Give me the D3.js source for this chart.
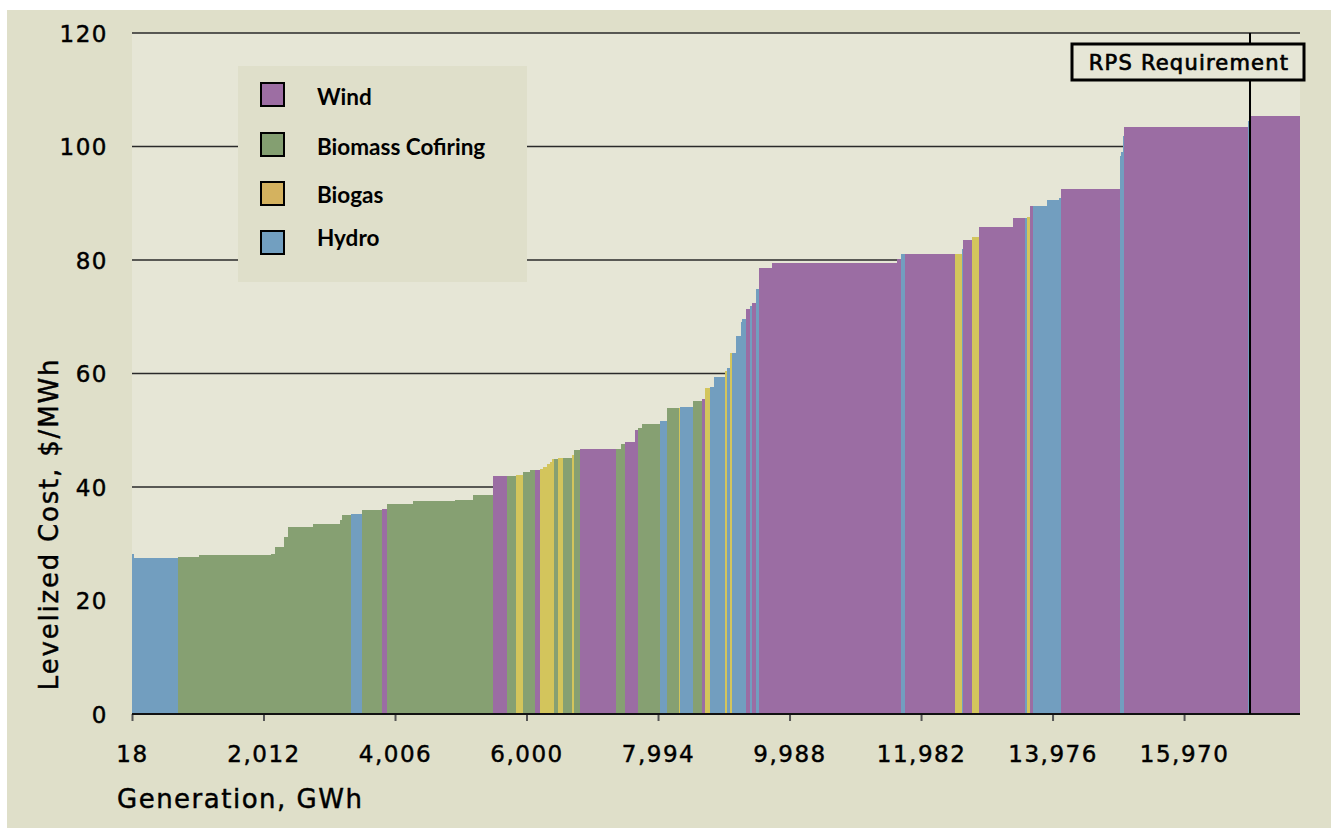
<!DOCTYPE html>
<html>
<head>
<meta charset="utf-8">
<script src="https://cdn.jsdelivr.net/npm/d3@7"></script>
<style>
  html, body { margin: 0; padding: 0; background: #ffffff; }
  svg { display: block; }
</style>
</head>
<body>
<svg id="chart" width="1331" height="828"></svg>
<script>
// ---------------- DATA ----------------
const startGWh = 18;
const endGWh = 17728;
const rpsRequirement = 16970;

const technologies = ["Wind", "Biomass Cofiring", "Biogas", "Hydro"];

// supply-curve blocks in merit order (type, generation width in GWh, levelized cost $/MWh)
const blockTypes = [
  "Hydro","Hydro","Biomass Cofiring","Biomass Cofiring","Biomass Cofiring","Biomass Cofiring","Biomass Cofiring","Biomass Cofiring","Biomass Cofiring","Biomass Cofiring",
  "Biomass Cofiring","Hydro","Biomass Cofiring","Wind","Biomass Cofiring","Biomass Cofiring","Biomass Cofiring","Biomass Cofiring","Wind","Biomass Cofiring",
  "Biogas","Biomass Cofiring","Biomass Cofiring","Wind","Biogas","Biogas","Biogas","Biogas","Biogas","Biomass Cofiring",
  "Biogas","Biomass Cofiring","Biogas","Biomass Cofiring","Wind","Biomass Cofiring","Biomass Cofiring","Wind","Wind","Biomass Cofiring",
  "Biomass Cofiring","Hydro","Biomass Cofiring","Biogas","Hydro","Biomass Cofiring","Wind","Biogas","Hydro","Hydro",
  "Biogas","Hydro","Biogas","Hydro","Hydro","Hydro","Hydro","Wind","Hydro","Wind",
  "Hydro","Wind","Wind","Wind","Hydro","Wind","Biogas","Hydro","Wind","Biogas",
  "Wind","Wind","Hydro","Biogas","Wind","Hydro","Hydro","Hydro","Wind","Hydro",
  "Hydro","Hydro","Wind","Hydro","Wind"
];
const blockWidths = [
  30,667,318,1092,61,136,61,379,409,30,
  136,167,303,76,394,637,273,303,212,136,
  106,106,76,76,45,61,45,30,30,61,
  76,136,30,91,546,76,61,152,45,61,
  273,106,182,15,197,136,45,76,61,167,
  30,45,30,61,76,15,61,61,30,61,
  45,197,1895,61,61,758,106,15,136,106,
  516,182,30,45,45,212,182,30,895,15,
  30,15,1880,15,773
];
const blockCosts = [
  28.2,27.5,27.7,28.0,28.2,29.4,31.2,33.0,33.5,34.2,
  35.1,35.2,35.9,36.1,37.0,37.5,37.7,38.6,41.9,41.9,
  42.1,42.6,43.0,43.0,43.2,43.5,44.1,44.4,44.9,44.9,
  45.1,45.1,45.6,46.5,46.7,46.7,47.6,47.9,50.0,50.4,
  51.1,51.6,53.9,53.9,54.1,55.2,55.5,57.4,57.6,59.4,
  60.4,61.0,63.6,63.6,66.6,69.1,69.6,71.4,71.9,72.4,
  74.9,78.6,79.5,80.2,81.1,81.1,81.1,81.9,83.5,84.1,
  85.8,87.4,87.4,87.6,89.5,89.5,90.6,90.9,92.5,98.3,
  99.0,101.9,103.4,104.5,105.4
];

const xTickValues = [18, 2012, 4006, 6000, 7994, 9988, 11982, 13976, 15970];
const yTickValues = [0, 20, 40, 60, 80, 100, 120];

const barColors = { "Wind": "#9b6da3", "Biomass Cofiring": "#86a072", "Biogas": "#d3c55c", "Hydro": "#729ebf" };
const legendColors = { "Wind": "#9d6ea3", "Biomass Cofiring": "#849f71", "Biogas": "#d4b25f", "Hydro": "#729fc0" };

// ---------------- LAYOUT ----------------
const svg = d3.select("#chart");
const plot = { left: 132, right: 1300, top: 33, bottom: 714 };

svg.append("rect").attr("x", 7).attr("y", 10).attr("width", 1331 - 7).attr("height", 828 - 10)
  .attr("fill", "#dfdfc9");
svg.append("rect").attr("x", plot.left).attr("y", plot.top)
  .attr("width", plot.right - plot.left).attr("height", plot.bottom - plot.top)
  .attr("fill", "#e6e6d6");

const x = d3.scaleLinear().domain([startGWh, endGWh]).range([plot.left, plot.right]);
const y = d3.scaleLinear().domain([0, 120]).range([plot.bottom, plot.top]);

// gridlines
svg.append("g").selectAll("line").data(yTickValues.filter(v => v > 0)).join("line")
  .attr("x1", plot.left).attr("x2", plot.right)
  .attr("y1", d => y(d)).attr("y2", d => y(d))
  .attr("stroke", "#2a2a2a").attr("stroke-width", 1.5);

// build blocks
let cum = startGWh;
const blocks = blockTypes.map((t, i) => {
  const b = { type: t, x0: cum, x1: cum + blockWidths[i], cost: blockCosts[i] };
  cum += blockWidths[i];
  return b;
});

svg.append("g").selectAll("rect").data(blocks).join("rect")
  .attr("x", d => x(d.x0))
  .attr("width", d => Math.max(0.5, x(Math.min(d.x1, endGWh)) - x(d.x0)))
  .attr("y", d => y(d.cost))
  .attr("height", d => y(0) - y(d.cost))
  .attr("fill", d => barColors[d.type])
  .attr("shape-rendering", "crispEdges");

const textStyle = sel => sel
  .style("font-family", "'DejaVu Sans', sans-serif")
  .attr("fill", "#000").attr("stroke", "#000").attr("stroke-width", 0.45);

// x axis
const xAxis = d3.axisBottom(x).tickValues(xTickValues).tickSize(7).tickPadding(0)
  .tickFormat(d3.format(","));
const gx = svg.append("g").attr("transform", `translate(0,${plot.bottom})`).call(xAxis);
gx.select(".domain").remove();
gx.selectAll(".tick line").attr("stroke", "#555").attr("stroke-width", 2);
gx.selectAll(".tick text")
  .attr("y", 48).attr("dy", null)
  .call(textStyle)
  .style("font-size", "23px")
  .style("letter-spacing", "1.5px");
svg.append("line").attr("x1", plot.left).attr("x2", plot.right)
  .attr("y1", plot.bottom).attr("y2", plot.bottom)
  .attr("stroke", "#111").attr("stroke-width", 2);

// y axis labels
const yAxis = d3.axisLeft(y).tickValues(yTickValues).tickSize(0).tickPadding(0);
const gy = svg.append("g").attr("transform", `translate(108,0)`).call(yAxis);
gy.select(".domain").remove();
gy.selectAll(".tick text")
  .attr("x", 0).attr("dy", "0.36em")
  .call(textStyle)
  .style("font-size", "23px")
  .style("letter-spacing", "1.5px");

// axis titles
svg.append("text").attr("x", 117).attr("y", 808)
  .text("Generation, GWh")
  .call(textStyle)
  .style("font-size", "26px").style("letter-spacing", "1.5px");
svg.append("text").attr("transform", "translate(58,524) rotate(-90)")
  .attr("text-anchor", "middle")
  .text("Levelized Cost, $/MWh")
  .call(textStyle)
  .style("font-size", "26px").style("letter-spacing", "1.8px");

// RPS requirement
svg.append("line").attr("x1", x(rpsRequirement)).attr("x2", x(rpsRequirement))
  .attr("y1", plot.top).attr("y2", plot.bottom)
  .attr("stroke", "#000").attr("stroke-width", 2);
svg.append("rect").attr("x", 1072).attr("y", 44).attr("width", 232).attr("height", 36)
  .attr("fill", "#e6e6d6").attr("stroke", "#000").attr("stroke-width", 3);
svg.append("text").attr("x", 1189).attr("y", 70).attr("text-anchor", "middle")
  .text("RPS Requirement")
  .call(textStyle)
  .attr("stroke-width", 0.7)
  .style("font-size", "21px").style("letter-spacing", "1.2px");

// legend
const legend = svg.append("g");
legend.append("rect").attr("x", 238).attr("y", 66).attr("width", 289).attr("height", 216)
  .attr("fill", "#dfdfca");
const legSwatchY = [83, 133, 182, 231];
const legTextY = [105, 155, 203, 246];
const li = legend.selectAll("g.item").data(technologies).join("g").attr("class", "item");
li.append("rect").attr("x", 261).attr("y", (d, i) => legSwatchY[i]).attr("width", 23).attr("height", 23)
  .attr("fill", d => legendColors[d]).attr("stroke", "#000").attr("stroke-width", 2);
li.append("text").attr("x", 317).attr("y", (d, i) => legTextY[i]).text(d => d)
  .style("font-family", "Lato, sans-serif").style("font-weight", "bold")
  .style("font-size", "22.5px").attr("fill", "#000");
</script>
</body>
</html>
